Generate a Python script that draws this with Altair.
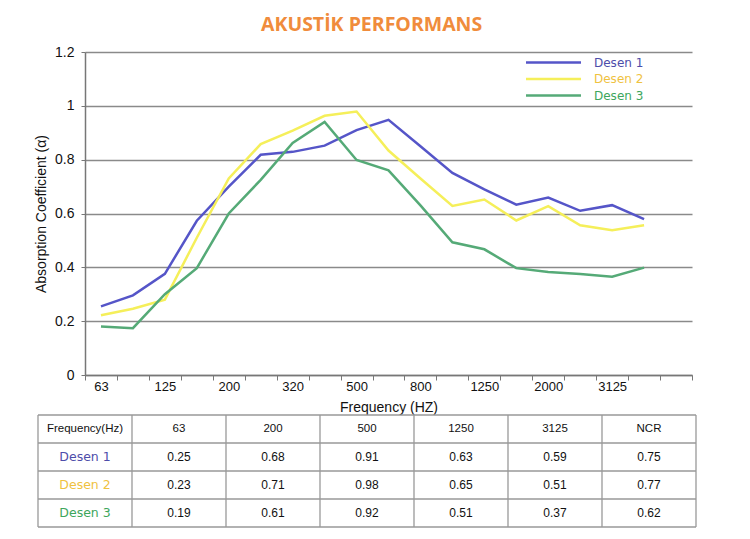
import json
import altair as alt
import pandas as pd

# ---------------- data ----------------
freq_bands = ["63", "100", "125", "160", "200", "250", "320", "400", "500", "630",
              "800", "1000", "1250", "1600", "2000", "2500", "3125", "4000", "5000"]
shown_labels = ["63", "125", "200", "320", "500", "800", "1250", "2000", "3125"]
series_names = ["Desen 1", "Desen 2", "Desen 3"]

desen1 = [0.255, 0.296, 0.376, 0.573, 0.70, 0.818, 0.829, 0.852, 0.910, 0.948,
          0.85, 0.751, 0.69, 0.633, 0.659, 0.610, 0.631, 0.579]
desen2 = [0.222, 0.246, 0.28, 0.51, 0.73, 0.858, 0.908, 0.963, 0.979, 0.834,
          0.73, 0.628, 0.652, 0.574, 0.627, 0.556, 0.538, 0.556]
desen3 = [0.180, 0.174, 0.30, 0.397, 0.60, 0.725, 0.862, 0.940, 0.799, 0.760,
          0.63, 0.493, 0.467, 0.397, 0.383, 0.375, 0.365, 0.399]

line_colors = ["#5555c8", "#f5ef5a", "#55aa77"]
label_colors = ["#4d4daa", "#efc23f", "#3da65c"]

table_header = ["Frequency(Hz)", "63", "200", "500", "1250", "3125", "NCR"]
table_d1 = ["0.25", "0.68", "0.91", "0.63", "0.59", "0.75"]
table_d2 = ["0.23", "0.71", "0.98", "0.65", "0.51", "0.77"]
table_d3 = ["0.19", "0.61", "0.92", "0.51", "0.37", "0.62"]

# ---------------- line chart ----------------
label_expr = f"indexof({json.dumps(shown_labels)}, datum.value) >= 0 ? datum.value : ''"

PW, PH = 607, 323

x_enc = alt.X(
    "freq:O",
    bandPosition=0.5,
    scale=alt.Scale(type="band", domain=freq_bands, paddingInner=0, paddingOuter=0),
    axis=alt.Axis(
        title="Frequency (HZ)", labelExpr=label_expr, labelAngle=0, tickBand="extent",
        grid=False, tickSize=5, tickColor="#777777", domainColor="#777777", domainWidth=1.5,
        labelFont="Liberation Sans", labelFontSize=13, labelColor="#111111", labelPadding=0,
        titleFont="Liberation Sans", titleFontSize=14, titleFontWeight="normal",
        titleColor="#111111", titlePadding=7,
    ),
)
y_enc = alt.Y(
    "value:Q",
    scale=alt.Scale(domain=[0, 1.2], nice=False),
    axis=alt.Axis(
        title="Absorption Coefficient (α)", values=[0, 0.2, 0.4, 0.6, 0.8, 1.0, 1.2],
        format=".1~f", grid=True, gridColor="#8a8a8a", gridWidth=1.5,
        tickSize=4, tickColor="#777777", domainColor="#777777", domainWidth=1.5,
        labelFont="Liberation Sans", labelFontSize=14, labelColor="#111111", labelPadding=7,
        titleFont="Liberation Sans", titleFontSize=14, titleFontWeight="normal",
        titleColor="#111111", titlePadding=6,
    ),
)

layers = []
for i, (name, vals) in enumerate(zip(series_names, [desen1, desen2, desen3])):
    sdf = pd.DataFrame({"freq": freq_bands[: len(vals)], "value": vals, "series": name})
    layers.append(
        alt.Chart(sdf).mark_line(strokeWidth=2.5).encode(
            x=x_enc,
            y=y_enc,
            color=alt.Color(
                "series:N",
                scale=alt.Scale(domain=[name], range=[line_colors[i]]),
                legend=alt.Legend(
                    title=None, orient="none", legendX=458, legendY=0 + 16.5 * i,
                    symbolType="M-3,0H3", symbolSize=336, symbolStrokeWidth=2.5,
                    labelFont="DejaVu Sans", labelFontSize=12, labelOffset=30,
                    labelColor=label_colors[i],
                ),
            ),
        )
    )

lines = alt.layer(*layers).resolve_scale(color="independent").properties(width=PW, height=PH)

# ---------------- table ----------------
cells = []
for c, h in enumerate(table_header):
    cells.append({"col": c, "row": 0, "text": h, "kind": "header", "color": "#111111"})
for r, (name, vals) in enumerate(zip(series_names, [table_d1, table_d2, table_d3]), start=1):
    cells.append({"col": 0, "row": r, "text": name, "kind": "name", "color": label_colors[r - 1]})
    for c, v in enumerate(vals, start=1):
        cells.append({"col": c, "row": r, "text": v, "kind": "value", "color": "#111111"})
cells_df = pd.DataFrame(cells)

n_cols = len(table_header)
n_rows = 1 + len(series_names)
hlines = pd.DataFrame({"r": list(range(n_rows + 1)), "a": 0, "b": n_cols})
vlines = pd.DataFrame({"c": list(range(n_cols + 1)), "a": 0, "b": n_rows})

TW, TH = 611, 112
xs = alt.Scale(domain=[0, n_cols], nice=False, zero=False, range=[-47, 611])
ys = alt.Scale(domain=[0, n_rows], nice=False, zero=False, reverse=True)

base_text = alt.Chart(cells_df).transform_calculate(
    xc="datum.col + 0.5", yc="datum.row + 0.5"
)


def text_layer(kind, font, size):
    return base_text.transform_filter(alt.datum.kind == kind).mark_text(
        font=font, fontSize=size, baseline="middle", align="center"
    ).encode(
        x=alt.X("xc:Q", scale=xs, axis=None),
        y=alt.Y("yc:Q", scale=ys, axis=None),
        text="text:N",
        color=alt.Color("color:N", scale=None),
    )


h_rules = alt.Chart(hlines).mark_rule(color="#999999", strokeWidth=1.3).encode(
    y=alt.Y("r:Q", scale=ys, axis=None),
    x=alt.X("a:Q", scale=xs, axis=None),
    x2="b:Q",
)
v_rules = alt.Chart(vlines).mark_rule(color="#999999", strokeWidth=1.3).encode(
    x=alt.X("c:Q", scale=xs, axis=None),
    y=alt.Y("a:Q", scale=ys, axis=None),
    y2="b:Q",
)

table = alt.layer(
    h_rules, v_rules,
    text_layer("header", "Liberation Sans", 11.5),
    text_layer("name", "DejaVu Sans", 12.5),
    text_layer("value", "Liberation Sans", 12),
).properties(width=TW, height=TH)

chart = alt.vconcat(lines, table, spacing=0).properties(
    title=alt.TitleParams(
        "AKUSTİK PERFORMANS", color="#f08c3c", fontSize=19.5, font="Open Sans",
        fontWeight="bold", anchor="middle", offset=10, dx=6,
    ),
    background="white",
    padding={"left": 26, "top": 6, "right": 5, "bottom": 5},
).configure_view(strokeWidth=0)

chart.save("out.html", embed_options={"renderer": "svg", "actions": False})
